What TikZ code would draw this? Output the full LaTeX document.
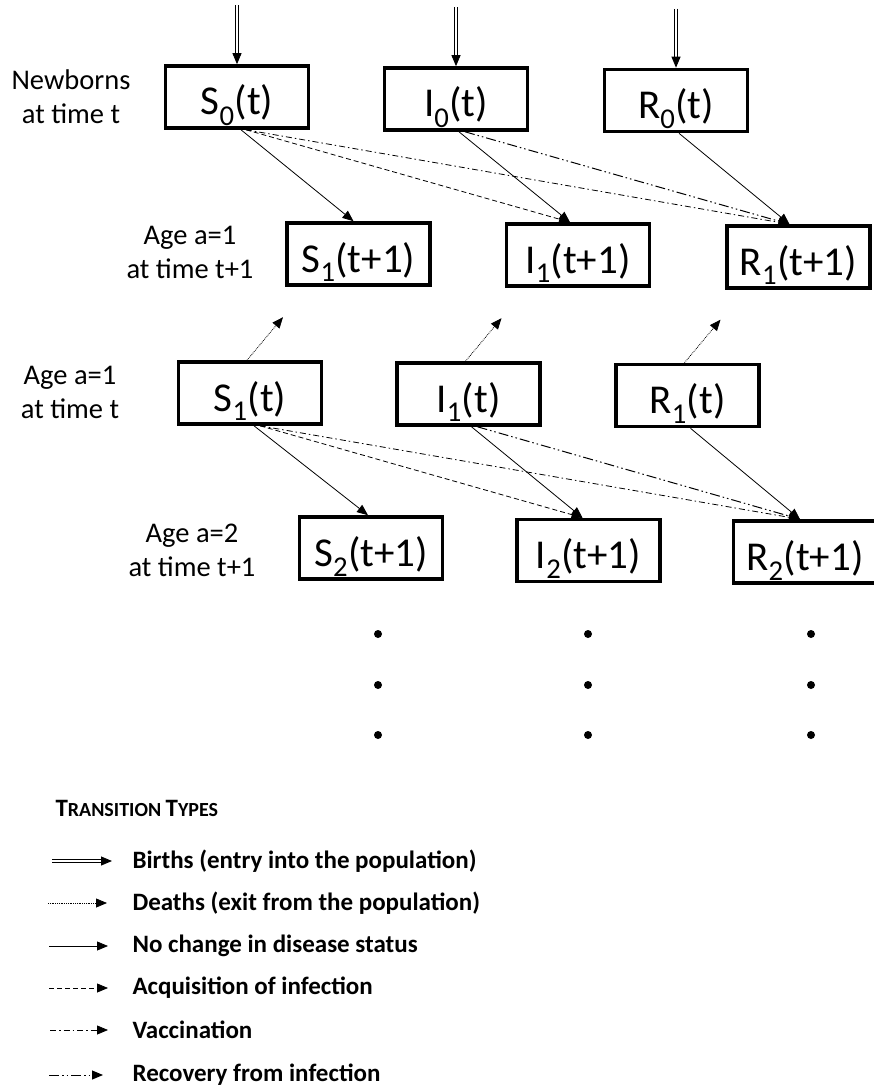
\documentclass[tikz,border=0pt]{standalone}
\usepackage{fontspec}
\setmainfont{Carlito}
\usetikzlibrary{arrows.meta}

\begin{document}
\begin{tikzpicture}[x=1pt,y=-1pt,
                    comp/.style={draw,line width=3.6pt,minimum width=143pt,minimum height=62pt,
                                 inner sep=0pt,text height=40pt,text depth=4pt,
                                 font=\fontsize{41}{43}\selectfont},
                    agelabel/.style={align=center,font=\fontsize{28.5}{34}\selectfont},
                    link/.style={line width=0.8pt,-{Triangle[length=11pt,width=9pt]}},
                    births/.style={link,double,double distance=2pt,line width=0.9pt},
                    deaths/.style={link,densely dotted},
                    nochange/.style={link},
                    infection/.style={link,dash pattern=on 5pt off 3pt},
                    vaccine/.style={link,dash pattern=on 6pt off 3pt on 1.5pt off 3pt},
                    recovery/.style={link,line width=1pt,dash pattern=on 10pt off 3pt on 1.5pt off 3pt on 1.5pt off 3pt},
                    keytext/.style={anchor=west,font=\bfseries\fontsize{25}{27}\selectfont}]
    \useasboundingbox (0,0) rectangle (874,1089);
    % compartments
    \node[comp] (s0)  at (237,97)    {S\textsubscript{0}(t)};
    \node[comp] (i0)  at (456,99)    {I\textsubscript{0}(t)};
    \node[comp] (r0)  at (676,100.5) {R\textsubscript{0}(t)};
    \node[comp] (s1n) at (358.5,254) {S\textsubscript{1}(t+1)};
    \node[comp] (i1n) at (578,255)   {I\textsubscript{1}(t+1)};
    \node[comp] (r1n) at (798.5,257) {R\textsubscript{1}(t+1)};
    \node[comp] (s1)  at (250,393)   {S\textsubscript{1}(t)};
    \node[comp] (i1)  at (468.5,394) {I\textsubscript{1}(t)};
    \node[comp] (r1)  at (687.5,395.5) {R\textsubscript{1}(t)};
    \node[comp] (s2n) at (371,548)   {S\textsubscript{2}(t+1)};
    \node[comp] (i2n) at (588.5,550.5) {I\textsubscript{2}(t+1)};
    \node[comp] (r2n) at (805,552)   {R\textsubscript{2}(t+1)};
    % row labels
    \node[agelabel] (lnew) at (71,97)   {Newborns\\at time t};
    \node[agelabel] (la1n) at (190,252) {Age a=1\\at time t+1};
    \node[agelabel] (la1)  at (70,392)  {Age a=1\\at time t};
    \node[agelabel] (la2n) at (192,550) {Age a=2\\at time t+1};
    % births
    \foreach \c in {s0,i0,r0} {
        \coordinate (b\c) at ([yshift=59pt]\c.north);
        \draw[births] (b\c) -- (\c.north);
    }
    % deaths
    \foreach \c in {s1,i1,r1} {
        \coordinate (d\c) at ([xshift=33pt,yshift=43pt]\c.north);
        \draw[deaths] ([xshift=-3pt]\c.north) -- (d\c);
    }
    % ageing from t to t+1
    \draw[nochange]  ([xshift=4pt]s0.south) -- ([xshift=-5pt]s1n.north);
    \draw[infection] ([xshift=9pt]s0.south) -- ([xshift=-8pt]i1n.north);
    \draw[vaccine]   ([xshift=9pt]s0.south) -- ([xshift=-9pt]r1n.north);
    \draw[nochange]  ([xshift=3pt]i0.south) -- ([xshift=-8pt]i1n.north);
    \draw[recovery]  ([xshift=9pt]i0.south) -- ([xshift=-9pt]r1n.north);
    \draw[nochange]  ([xshift=3pt]r0.south) -- ([xshift=-9pt]r1n.north);
    \draw[nochange]  ([xshift=4pt]s1.south) -- ([xshift=-3pt]s2n.north);
    \draw[infection] ([xshift=10pt]s1.south) -- ([xshift=-6pt]i2n.north);
    \draw[vaccine]   ([xshift=10pt]s1.south) -- ([xshift=-5pt]r2n.north);
    \draw[nochange]  ([xshift=3pt]i1.south) -- ([xshift=-6pt]i2n.north);
    \draw[recovery]  ([xshift=9pt]i1.south) -- ([xshift=-5pt]r2n.north);
    \draw[nochange]  ([xshift=3pt]r1.south) -- ([xshift=-5pt]r2n.north);
    % older ages
    \foreach \x in {378,588,811}
        \foreach \y in {634,685,735}
            \fill (\x,\y) circle (4pt);
    % key
    \node[anchor=west,font=\bfseries] (ttl) at (52,808)
        {\fontsize{25}{25}\selectfont T\fontsize{20}{20}\selectfont RANSITION
         \fontsize{25}{25}\selectfont T\fontsize{20}{20}\selectfont YPES};
    \node[keytext] (kb) at (129,861)  {Births (entry into the population)};
    \node[keytext] (kd) at (129,903)  {Deaths (exit from the population)};
    \node[keytext] (kn) at (129,946)  {No change in disease status};
    \node[keytext] (ki) at (129,988)  {Acquisition of infection};
    \node[keytext] (kv) at (129,1030) {Vaccination};
    \node[keytext] (kr) at (129,1075) {Recovery from infection};
    \draw[births]    ([xshift=-77pt]kb.west) -- ([xshift=-17pt]kb.west);
    \draw[deaths]    ([xshift=-81pt]kd.west) -- ([xshift=-22pt]kd.west);
    \draw[nochange]  ([xshift=-80pt]kn.west) -- ([xshift=-21pt]kn.west);
    \draw[infection] ([xshift=-80pt]ki.west) -- ([xshift=-21pt]ki.west);
    \draw[vaccine]   ([xshift=-79pt]kv.west) -- ([xshift=-21pt]kv.west);
    \draw[recovery]  ([xshift=-80pt]kr.west) -- ([xshift=-26pt]kr.west);
\end{tikzpicture}
\end{document}
